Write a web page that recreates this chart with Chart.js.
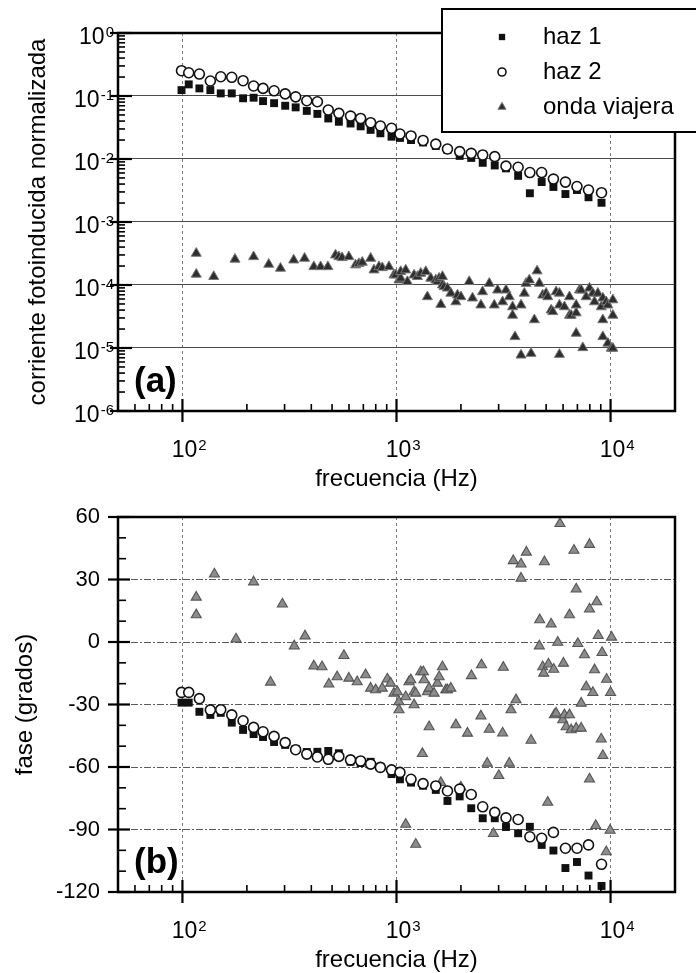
<!DOCTYPE html>
<html>
<head>
<meta charset="utf-8">
<script src="https://cdn.jsdelivr.net/npm/chart.js@4/dist/chart.umd.min.js"></script>
<style>
  body { margin: 0; background: #fff; width: 696px; height: 973px; overflow: hidden; position: relative }
  canvas { position: absolute; left: 0; top: 0 }
</style>
</head>
<body>
<canvas id="amplitud" width="696" height="973"></canvas>
<canvas id="fase" width="696" height="973"></canvas>
<script>
// frecuencias (Hz) comunes a haz 1 y haz 2
const frecuencia = [99, 107, 120, 135, 151, 170, 192, 215, 238, 268, 302, 338, 381, 427, 480, 538, 610, 680, 757, 841,
  948, 1038, 1169, 1331, 1526, 1730, 1973, 2234, 2528, 2877, 3247, 3700, 4198, 4767, 5408, 6154, 6968, 7889, 9074]

// (a) corriente fotoinducida normalizada
const amplitudHaz1 = [0.124, 0.153, 0.132, 0.124, 0.110, 0.110, 0.092, 0.094, 0.083, 0.077, 0.070, 0.066, 0.058, 0.052, 0.044, 0.039, 0.0366, 0.033, 0.029, 0.0256,
  0.0226, 0.0216, 0.020, 0.0183, 0.0161, 0.0139, 0.0112, 0.0104, 0.0087, 0.0079, 0.0071, 0.0054, 0.00286, 0.00431, 0.0036, 0.00278, 0.00322, 0.00247, 0.00202]
const amplitudHaz2 = [0.252, 0.234, 0.223, 0.173, 0.202, 0.198, 0.175, 0.144, 0.132, 0.121, 0.108, 0.097, 0.084, 0.081, 0.060, 0.053, 0.048, 0.044, 0.0377, 0.0334,
  0.0307, 0.0249, 0.0232, 0.0197, 0.0172, 0.0144, 0.0131, 0.0123, 0.0116, 0.0109, 0.0077, 0.0074, 0.0061, 0.0061, 0.0048, 0.0043, 0.00366, 0.00322, 0.00292]

const frecuenciaOndaA = [116, 116, 140, 176, 215, 253, 287, 331, 372, 411, 442, 478, 519, 538, 557, 599, 644, 667, 692, 757,
  785, 828, 858, 922, 973, 992, 1027, 1046, 1046, 1104, 1124, 1208, 1252, 1298, 1370, 1394, 1446, 1526, 1553, 1582,
  1611, 1639, 1639, 1669, 1730, 1794, 1894, 1927, 1999, 2186, 2265, 2480, 2523, 2713, 2862, 2967, 3131, 3247, 3365, 3485,
  3485, 3577, 3817, 3817, 3956, 4030, 4174, 4251, 4406, 4537, 4649, 4818, 4998, 5086, 5276, 5368, 5569, 5770, 5770, 5770,
  6088, 6427, 6427, 6545, 6909, 6909, 6909, 7160, 7292, 7420, 7694, 7973, 8263, 8414, 8719, 9045, 9203, 9203, 9203, 9548,
  9714, 9714, 10080, 10250, 10250, 10250]
const amplitudOnda = [3.18e-4, 1.48e-4, 1.36e-4, 2.56e-4, 2.81e-4, 2.13e-4, 1.84e-4, 2.49e-4, 2.65e-4, 1.95e-4, 1.95e-4, 1.95e-4, 2.99e-4, 2.81e-4, 2.71e-4, 2.81e-4, 2.08e-4, 2.18e-4, 2.29e-4, 2.65e-4,
  1.73e-4, 1.95e-4, 1.88e-4, 1.95e-4, 1.44e-4, 1.44e-4, 1.20e-4, 1.28e-4, 1.63e-4, 1.73e-4, 1.13e-4, 1.44e-4, 1.36e-4, 1.53e-4, 1.63e-4, 6.5e-5, 1.28e-4, 1.20e-4, 1.13e-4, 1.28e-4,
  4.9e-5, 1.0e-4, 1.36e-4, 9.4e-5, 8.9e-5, 7.4e-5, 5.4e-5, 6.9e-5, 6.5e-5, 1.13e-4, 6.2e-5, 4.8e-5, 7.8e-5, 1.06e-4, 4.8e-5, 8.3e-5, 5.4e-5, 8.3e-5, 6.5e-5, 4.5e-5,
  3.3e-5, 1.51e-5, 4.8e-5, 7.7e-6, 7.4e-5, 1.06e-4, 1.20e-4, 8.2e-6, 2.8e-5, 1.67e-4, 1.06e-4, 6.9e-5, 7.4e-5, 6.5e-5, 4.0e-5, 3.77e-5, 7.8e-5, 4.8e-5, 7.4e-5, 7.9e-6,
  4.5e-5, 6.5e-5, 3.3e-5, 3.3e-5, 4.8e-5, 1.71e-5, 3.6e-5, 8.3e-5, 8.3e-5, 1.01e-5, 6.5e-5, 8.9e-5, 7.4e-5, 5.4e-5, 7.4e-5, 4.5e-5, 6.2e-5, 2.8e-5, 1.51e-5, 5.4e-5,
  4.8e-5, 1.19e-5, 9.9e-6, 5.8e-5, 3.3e-5, 9.9e-6]

// (b) fase (grados)
const faseHaz1 = [-29.1, -29.1, -33.5, -35.0, -34.0, -38.7, -42.2, -44.2, -45.6, -48.0, -49.4, -51.4, -52.8, -52.7, -52.3, -53.4, -57.5, -58.1, -57.5, -59.9,
  -63.4, -65.9, -67.5, -69.0, -71.0, -76.3, -74.1, -79.8, -84.6, -84.6, -88.8, -91.8, -88.7, -97.4, -100.1, -108.5, -105.6, -112.1, -117.1]
const faseHaz2 = [-24.2, -24.2, -27.2, -32.6, -32.5, -35.0, -37.8, -41.0, -43.1, -45.3, -48.3, -51.7, -53.8, -55.2, -56.3, -54.9, -56.6, -57.1, -58.6, -60.2,
  -61.4, -62.6, -65.9, -68.0, -69.1, -71.5, -70.6, -73.2, -79.1, -81.8, -84.4, -85.2, -93.5, -94.2, -91.4, -99.0, -99.0, -97.4, -106.7]

const frecuenciaOndaB = [116, 116, 141, 178, 215, 258, 293, 333, 374, 411, 449, 483, 528, 568, 599, 655, 717, 757, 799, 858,
  906, 939, 973, 1009, 1027, 1027, 1104, 1104, 1144, 1166, 1208, 1208, 1230, 1230, 1298, 1321, 1335, 1345, 1394, 1420,
  1420, 1498, 1553, 1582, 1611, 1639, 1700, 1730, 1794, 1894, 1999, 2146, 2240, 2480, 2495, 2654, 2713, 2837, 3005, 3131,
  3154, 3365, 3427, 3512, 3617, 3817, 3817, 4043, 4251, 4649, 4665, 4818, 4872, 4909, 5086, 5125, 5276, 5426, 5466, 5569,
  5665, 5801, 5980, 6025, 6088, 6200, 6427, 6427, 6545, 6745, 6909, 6909, 7030, 7292, 7292, 7553, 7694, 7973, 7973, 7973,
  8263, 8416, 8524, 8617, 8757, 9045, 9125, 9203, 9548, 9579, 9947, 10000, 10110]
const faseOnda = [21.5, 13.0, 32.6, 1.4, 28.8, -19.3, 18.2, -1.9, 2.9, -11.5, -11.9, -20.2, -16.7, -6.5, -17.4, -19.1, -15.8, -22.2, -23.0, -22.2,
  -17.8, -19.8, -24.6, -23.9, -28.7, -32.6, -26.3, -87.5, -19.1, -18.2, -23.9, -30.2, -24.6, -97.1, -14.3, -53.6, -14.3, -18.2, -23.9, -22.2,
  -40.7, -24.6, -19.8, -16.7, -67.5, -11.9, -23.0, -23.0, -22.2, -39.8, -69.7, -43.8, -16.2, -35.5, -11.0, -58.2, -41.9, -92.0, -64.1, -43.7,
  -12.2, -58.2, -32.6, 39.0, -27.8, 37.4, 30.6, 43.1, -47.2, -1.9, 10.6, -11.9, -15.0, 38.5, -77.0, -10.6, 8.6, -13.1, -35.0, -34.2,
  -0.2, 56.8, -37.4, -10.2, -35.0, -40.7, 13.0, -35.0, -42.2, 44.0, 25.4, -41.4, -0.8, -41.4, -29.4, -6.2, -21.5, 46.8, 15.8, -65.8,
  -24.3, -13.4, -88.1, 19.3, 3.1, -46.6, -5.1, -54.5, -100.7, -17.9, -90.4, -24.3, 2.3]

// ticks
const decadasX = [100, 1000, 10000]
const decadasY = [1e-6, 1e-5, 1e-4, 1e-3, 1e-2, 1e-1, 1]
const fasesY = [-120, -90, -60, -30, 0, 30, 60]

const FUENTE = '"Liberation Sans", Arial, sans-serif'
const pts = (xs, ys) => xs.map((x, i) => ({ x, y: ys[i] }))

function linea(ctx, x1, y1, x2, y2) {
  ctx.beginPath(); ctx.moveTo(x1, y1); ctx.lineTo(x2, y2); ctx.stroke()
}

// "10" con exponente
function potencia(ctx, exp, x, y, align) {
  ctx.font = '23px ' + FUENTE
  const wBase = ctx.measureText('10').width
  ctx.font = '15px ' + FUENTE
  const wExp = ctx.measureText(exp).width
  const x0 = align === 'right' ? x - wBase - wExp - 1 : x - wBase / 2
  ctx.textAlign = 'left'
  ctx.textBaseline = 'alphabetic'
  ctx.font = '23px ' + FUENTE
  ctx.fillText('10', x0, y)
  ctx.font = '15px ' + FUENTE
  ctx.fillText(exp, x0 + wBase + 1, y - 7)
}

const marco = {
  id: 'marco',
  afterDraw(chart, args, o) {
    const { ctx, chartArea: a, scales: { x, y } } = chart
    ctx.save()
    ctx.strokeStyle = '#000'
    ctx.fillStyle = '#000'

    // ticks menores del eje x (hacia dentro)
    ctx.lineWidth = 1.6
    for (let d = 10; d <= 10000; d *= 10) {
      for (let m = 2; m <= 9; m++) {
        const v = m * d
        if (v <= x.min || v >= x.max) continue
        const px = x.getPixelForValue(v)
        linea(ctx, px, a.bottom, px, a.bottom - 7)
      }
    }
    ctx.lineWidth = 2.2
    decadasX.forEach(v => {
      const px = x.getPixelForValue(v)
      linea(ctx, px, a.bottom - 12, px, a.bottom + 11)
      potencia(ctx, String(Math.log10(v)), px + 2, a.bottom + 46, 'center')
    })

    if (o.log) {
      ctx.lineWidth = 1.6
      for (let d = 1e-6; d < 1; d *= 10) {
        for (let m = 2; m <= 9; m++) {
          const py = y.getPixelForValue(m * d)
          linea(ctx, a.left, py, a.left + 7, py)
        }
      }
      ctx.lineWidth = 2.2
      decadasY.forEach(v => {
        const py = y.getPixelForValue(v)
        linea(ctx, a.left - 8, py, a.left + 14, py)
        potencia(ctx, String(Math.round(Math.log10(v))), a.left - 4, py + 11, 'right')
      })
    } else {
      ctx.lineWidth = 1.6
      for (let v = -110; v < 60; v += 10) {
        if (v % 30 === 0) continue
        const py = y.getPixelForValue(v)
        linea(ctx, a.left, py, a.left + 8, py)
      }
      ctx.lineWidth = 2.2
      fasesY.forEach(v => {
        const py = y.getPixelForValue(v)
        linea(ctx, a.left - 10, py, a.left + 12, py)
      })
    }

    // marco
    ctx.lineWidth = 2.5
    ctx.strokeRect(a.left, a.top, a.right - a.left, a.bottom - a.top)

    // titulos
    ctx.font = '24px ' + FUENTE
    ctx.textAlign = 'center'
    ctx.textBaseline = 'alphabetic'
    ctx.fillText('frecuencia (Hz)', (a.left + a.right) / 2, a.bottom + 75)
    ctx.save()
    ctx.translate(o.tituloX, (a.top + a.bottom) / 2)
    ctx.rotate(-Math.PI / 2)
    ctx.fillText(o.tituloY, 0, 0)
    ctx.restore()

    // etiqueta del panel
    ctx.font = 'bold 35px ' + FUENTE
    ctx.textAlign = 'left'
    ctx.fillText(o.panel, a.left + 16, a.bottom - 19)

    // leyenda
    if (o.leyenda) {
      ctx.fillStyle = '#fff'
      ctx.fillRect(442, 9, 270, 123)
      ctx.lineWidth = 2
      ctx.strokeRect(442, 9, 270, 123)
      ctx.font = '24px ' + FUENTE
      ctx.textBaseline = 'middle'
      const orden = ['haz 1', 'haz 2', 'onda viajera']
      orden.forEach((nombre, i) => {
        const ds = chart.data.datasets.find(d => d.label === nombre)
        const yy = 37 + i * 35
        ctx.fillStyle = ds.backgroundColor
        ctx.strokeStyle = ds.borderColor
        ctx.lineWidth = ds.borderWidth
        Chart.helpers.drawPoint(ctx, { pointStyle: ds.pointStyle, rotation: 0, radius: ds.pointRadius * 0.8, borderWidth: ds.borderWidth }, 502, yy)
        ctx.fillStyle = '#000'
        ctx.fillText(nombre, 543, yy)
      })
    }
    ctx.restore()
  }
}

function ejeX() {
  return {
    type: 'logarithmic', min: 50, max: 20000,
    afterBuildTicks: s => { s.ticks = decadasX.map(v => ({ value: v })) },
    afterFit: s => { s.height = 30 },
    ticks: { display: false },
    grid: { color: '#7a7a7a', lineWidth: 1, drawTicks: false },
    border: { display: false, dash: [3, 3] }
  }
}

const estiloHaz1 = { pointStyle: 'rect', pointRadius: 5.6, backgroundColor: '#111', borderColor: '#111', borderWidth: 0, order: 1 }
const estiloHaz2 = { pointStyle: 'circle', pointRadius: 5, backgroundColor: '#fff', borderColor: '#111', borderWidth: 1.6, order: 0 }

new Chart(document.getElementById('amplitud'), {
  type: 'scatter',
  data: {
    datasets: [
      { label: 'haz 1', data: pts(frecuencia, amplitudHaz1), ...estiloHaz1 },
      { label: 'haz 2', data: pts(frecuencia, amplitudHaz2), ...estiloHaz2 },
      { label: 'onda viajera', data: pts(frecuenciaOndaA, amplitudOnda), pointStyle: 'triangle', pointRadius: 5.8,
        backgroundColor: '#2e2e2e', borderColor: '#777', borderWidth: 1, order: 2 }
    ]
  },
  options: {
    responsive: false,
    animation: false,
    events: [],
    layout: { padding: { left: 0, right: 21, top: 33, bottom: 532 } },
    plugins: {
      legend: { display: false },
      tooltip: { enabled: false },
      marco: { log: true, tituloX: 45, tituloY: 'corriente fotoinducida normalizada', panel: '(a)', leyenda: true }
    },
    scales: {
      x: ejeX(),
      y: {
        type: 'logarithmic', min: 1e-6, max: 1,
        afterBuildTicks: s => { s.ticks = decadasY.map(v => ({ value: v })) },
        afterFit: s => { s.width = 118 },
        ticks: { display: false },
        grid: { color: '#4a4a4a', lineWidth: 1.1, drawTicks: false },
        border: { display: false }
      }
    }
  },
  plugins: [marco]
})

new Chart(document.getElementById('fase'), {
  type: 'scatter',
  data: {
    datasets: [
      { label: 'haz 1', data: pts(frecuencia, faseHaz1), ...estiloHaz1 },
      { label: 'haz 2', data: pts(frecuencia, faseHaz2), ...estiloHaz2 },
      { label: 'onda viajera', data: pts(frecuenciaOndaB, faseOnda), pointStyle: 'triangle', pointRadius: 5.8,
        backgroundColor: '#8c8c8c', borderColor: '#555', borderWidth: 1.1, order: 2 }
    ]
  },
  options: {
    responsive: false,
    animation: false,
    events: [],
    layout: { padding: { left: 0, right: 21, top: 517, bottom: 51 } },
    plugins: {
      legend: { display: false },
      tooltip: { enabled: false },
      marco: { log: false, tituloX: 32, tituloY: 'fase (grados)', panel: '(b)', leyenda: false }
    },
    scales: {
      x: ejeX(),
      y: {
        type: 'linear', min: -120, max: 60,
        afterBuildTicks: s => { s.ticks = fasesY.map(v => ({ value: v })) },
        afterFit: s => { s.width = 118 },
        ticks: { color: '#000', font: { size: 22, family: FUENTE }, padding: 18 },
        grid: { color: '#5a5a5a', lineWidth: 1, drawTicks: false },
        border: { display: false, dash: [7, 2, 2, 2] }
      }
    }
  },
  plugins: [marco]
})
</script>
</body>
</html>
